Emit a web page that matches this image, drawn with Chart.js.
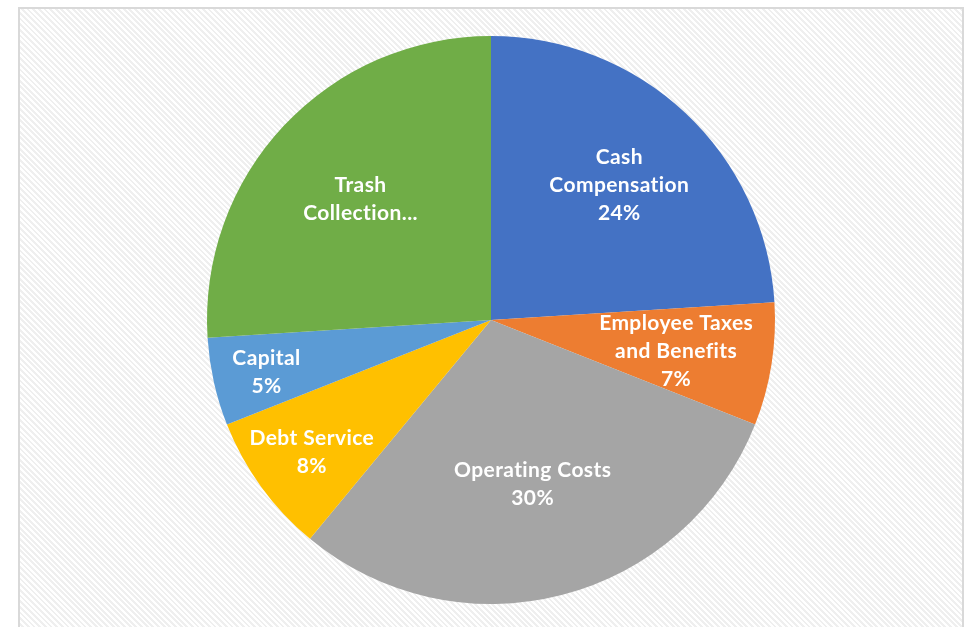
<!DOCTYPE html>
<html>
<head>
<meta charset="utf-8">
<script src="https://cdn.jsdelivr.net/npm/chart.js@4/dist/chart.umd.min.js"></script>
<style>
  html, body { margin: 0; padding: 0; background: #ffffff; overflow: hidden; }
  #frame {
    position: absolute; left: 18px; top: 7px; width: 946px; height: 640px;
    border: 2px solid #d9d9d9; box-sizing: border-box;
    background: repeating-linear-gradient(45deg, #ffffff 0px, #ffffff 2px, #efefef 2px, #efefef 4px);
  }
  #wrap { position: absolute; left: 0; top: 0; width: 973px; height: 627px; }
</style>
</head>
<body>
<div id="frame"></div>
<div id="wrap"><canvas id="c" width="973" height="627"></canvas></div>
<script>
// Budget breakdown by spending category
const categories = ['Cash Compensation', 'Employee Taxes and Benefits', 'Operating Costs', 'Debt Service', 'Capital', 'Trash Collection'];
const shares = [24, 7, 30, 8, 5, 26];
const labelLines = [
  ['Cash', 'Compensation', '24%'],
  ['Employee Taxes', 'and Benefits', '7%'],
  ['Operating Costs', '30%'],
  ['Debt Service', '8%'],
  ['Capital', '5%'],
  ['Trash', 'Collection...']
];
const sliceColors = ['#4472C4', '#ED7D31', '#A5A5A5', '#FFC000', '#5B9BD5', '#70AD47'];
// how far out along each slice's middle the label sits (fraction of radius)
const labelRadius = [0.66, 0.66, 0.59, 0.78, 0.81, 0.63];

const sliceLabels = {
  id: 'sliceLabels',
  afterDatasetsDraw(chart) {
    const ctx = chart.ctx;
    const meta = chart.getDatasetMeta(0);
    ctx.save();
    ctx.fillStyle = '#ffffff';
    ctx.font = 'bold 21px Lato, "Open Sans", sans-serif';
    if ('letterSpacing' in ctx) ctx.letterSpacing = '0.4px';
    ctx.textAlign = 'center';
    ctx.textBaseline = 'middle';
    const lh = 28;
    meta.data.forEach((arc, i) => {
      const p = arc.getProps(['x', 'y', 'startAngle', 'endAngle', 'outerRadius'], true);
      const mid = (p.startAngle + p.endAngle) / 2;
      const r = p.outerRadius * labelRadius[i];
      const cx = p.x + Math.cos(mid) * r;
      const cy = p.y + Math.sin(mid) * r + 2;
      const lines = labelLines[i];
      const y0 = cy - (lines.length - 1) * lh / 2;
      lines.forEach((t, k) => ctx.fillText(t, cx, y0 + k * lh));
    });
    ctx.restore();
  }
};

new Chart(document.getElementById('c'), {
  type: 'pie',
  data: {
    labels: categories,
    datasets: [{
      data: shares,
      backgroundColor: sliceColors,
      borderWidth: 0
    }]
  },
  options: {
    responsive: false,
    animation: false,
    layout: { padding: { left: 207, right: 198, top: 36, bottom: 23 } },
    plugins: {
      legend: { display: false },
      tooltip: { enabled: false }
    }
  },
  plugins: [sliceLabels]
});
</script>
</body>
</html>
